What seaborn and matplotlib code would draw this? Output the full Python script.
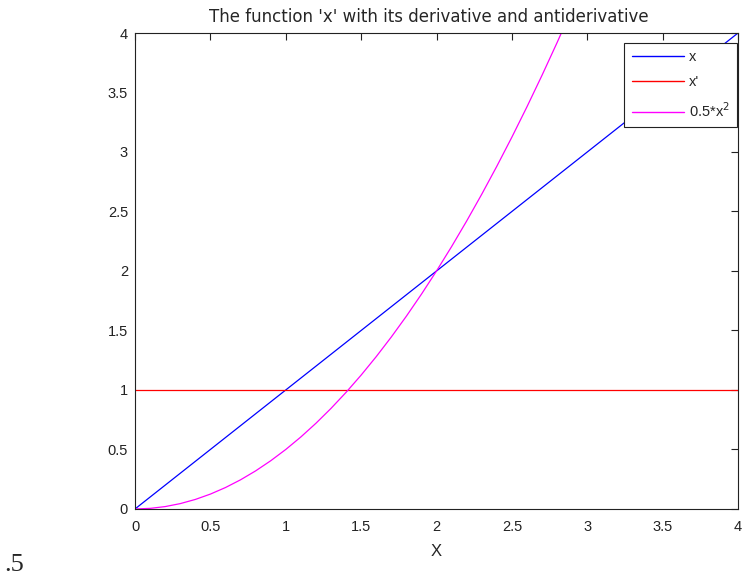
import matplotlib
matplotlib.use("Agg")
import matplotlib.pyplot as plt
import seaborn as sns
import pandas as pd

# sampled values of the three curves
x_vals = [0.0, 0.1, 0.2, 0.3, 0.4, 0.5, 0.6, 0.7, 0.8, 0.9, 1.0, 1.1, 1.2, 1.3, 1.4, 1.5,
          1.6, 1.7, 1.8, 1.9, 2.0, 2.1, 2.2, 2.3, 2.4, 2.5, 2.6, 2.7, 2.8, 2.9, 3.0,
          3.5, 4.0]
f_vals = [0.0, 0.1, 0.2, 0.3, 0.4, 0.5, 0.6, 0.7, 0.8, 0.9, 1.0, 1.1, 1.2, 1.3, 1.4, 1.5,
          1.6, 1.7, 1.8, 1.9, 2.0, 2.1, 2.2, 2.3, 2.4, 2.5, 2.6, 2.7, 2.8, 2.9, 3.0,
          3.5, 4.0]
deriv_vals = [1.0] * len(x_vals)
anti_vals = [0.0, 0.005, 0.02, 0.045, 0.08, 0.125, 0.18, 0.245, 0.32, 0.405, 0.5, 0.605,
             0.72, 0.845, 0.98, 1.125, 1.28, 1.445, 1.62, 1.805, 2.0, 2.205, 2.42, 2.645,
             2.88, 3.125, 3.38, 3.645, 3.92, 4.205, 4.5, 6.125, 8.0]

labels = ["x", "x'", "0.5*x$^2$"]
colors = ["#0000ff", "#ff0000", "#ff00ff"]
ticks = [0, 0.5, 1, 1.5, 2, 2.5, 3, 3.5, 4]
tick_labels = ["0", "0.5", "1", "1.5", "2", "2.5", "3", "3.5", "4"]

df = pd.DataFrame({
    "X": x_vals * 3,
    "y": f_vals + deriv_vals + anti_vals,
    "curve": [labels[0]] * len(x_vals) + [labels[1]] * len(x_vals) + [labels[2]] * len(x_vals),
})

sns.set_theme(style="white")
plt.rcParams["font.family"] = ["Liberation Sans", "DejaVu Sans"]
plt.rcParams["xtick.direction"] = "in"
plt.rcParams["ytick.direction"] = "in"
plt.rcParams["xtick.top"] = True
plt.rcParams["ytick.right"] = True

fig = plt.figure(figsize=(7.43, 5.77), dpi=100)
ax = fig.add_axes([0.1817, 0.1179, 0.8116, 0.8249])

sns.lineplot(data=df, x="X", y="y", hue="curve", palette=colors, linewidth=0.9,
             ax=ax, sort=False, estimator=None)

ax.set_xlim(0, 4)
ax.set_ylim(0, 4)
ax.set_xticks(ticks)
ax.set_yticks(ticks)
ax.set_xticklabels(tick_labels)
ax.set_yticklabels(tick_labels)
ax.tick_params(axis="both", labelsize=10.5, length=5, width=0.8, colors="#222222")
ax.tick_params(axis="x", pad=8)
ax.tick_params(axis="y", pad=5)
for s in ax.spines.values():
    s.set_color("#222222")
    s.set_linewidth(0.8)

ax.set_xlabel("X", fontsize=12, labelpad=7)
ax.set_ylabel("")
ax.set_title("The function 'x' with its derivative and antiderivative", fontsize=12,
             pad=8, x=0.488, family=["DejaVu Sans"])

leg = ax.legend(loc="upper right", fontsize=10.5, frameon=True, fancybox=False,
                handlelength=3.6, handletextpad=0.3, borderpad=0.5, labelspacing=0.8,
                borderaxespad=0, bbox_to_anchor=(0.998, 0.98), framealpha=1)
leg.get_frame().set_edgecolor("#222222")
leg.get_frame().set_linewidth(0.8)
leg.get_frame().set_facecolor("white")
for line in leg.get_lines():
    line.set_linewidth(1.0)

fig.text(0.006, 0.01, ".5", fontsize=19, family="Liberation Serif")

fig.savefig("out.png", dpi=100, facecolor="white")
